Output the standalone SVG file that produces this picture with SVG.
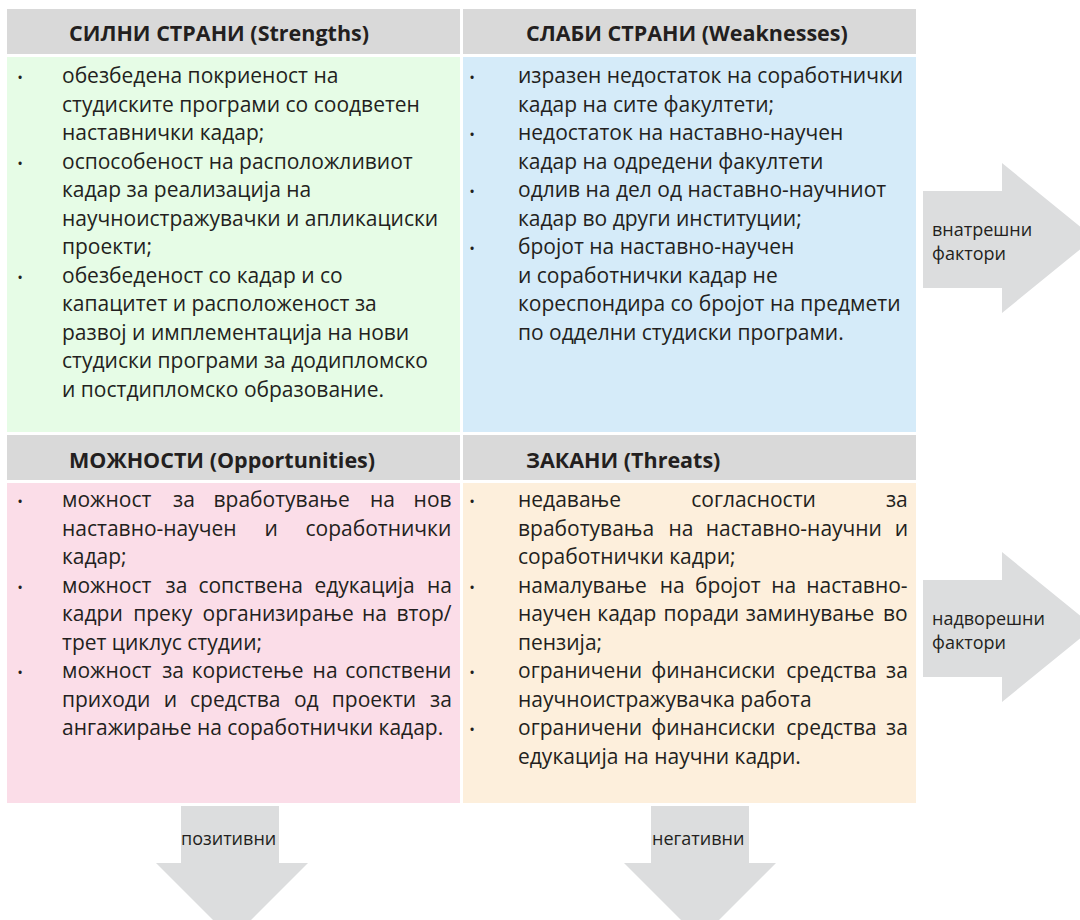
<svg xmlns="http://www.w3.org/2000/svg" width="1080" height="920" viewBox="0 0 1080 920">
<style>
.hdr{fill:#d9d9d9}
.ht{font-family:"Open Sans","Noto Sans","Liberation Sans",sans-serif;font-weight:700;font-size:21.5px;fill:#231f20}
.bt{font-family:"Open Sans","Noto Sans","Liberation Sans",sans-serif;font-size:21px;fill:#231f20}
.bl{font-family:"Open Sans","Noto Sans","Liberation Sans",sans-serif;font-size:15px;fill:#231f20;text-anchor:middle}
.arr{fill:#dcddde}
.at{font-family:"Open Sans","Noto Sans","Liberation Sans",sans-serif;font-size:18px;fill:#231f20}
</style>
<rect width="1080" height="920" fill="#ffffff"/>

<g id="strengths">
<rect class="hdr" x="7" y="9" width="453" height="45"/>
<text class="ht" x="69" y="41">СИЛНИ СТРАНИ (Strengths)</text>
<rect x="7" y="57" width="453" height="375" fill="#e6fce6"/>
<text class="bl" x="20" y="83">•</text>
<text class="bl" x="20" y="168.5">•</text>
<text class="bl" x="20" y="282.5">•</text>
<text class="bt" x="62" y="83">обезбедена покриеност на</text>
<text class="bt" x="62" y="111.5">студиските програми со соодветен</text>
<text class="bt" x="62" y="140">наставнички кадар;</text>
<text class="bt" x="62" y="168.5">оспособеност на расположливиот</text>
<text class="bt" x="62" y="197">кадар за реализација на</text>
<text class="bt" x="62" y="225.5">научноистражувачки и апликациски</text>
<text class="bt" x="62" y="254">проекти;</text>
<text class="bt" x="62" y="282.5">обезбеденост со кадар и со</text>
<text class="bt" x="62" y="311">капацитет и расположеност за</text>
<text class="bt" x="62" y="339.5">развој и имплементација на нови</text>
<text class="bt" x="62" y="368">студиски програми за додипломско</text>
<text class="bt" x="62" y="396.5">и постдипломско образование.</text>
</g>

<g id="weaknesses">
<rect class="hdr" x="463" y="9" width="453" height="45"/>
<text class="ht" x="526" y="41">СЛАБИ СТРАНИ (Weaknesses)</text>
<rect x="463" y="57" width="453" height="375" fill="#d5ebf9"/>
<text class="bl" x="472" y="83">•</text>
<text class="bl" x="472" y="140">•</text>
<text class="bl" x="472" y="197">•</text>
<text class="bl" x="472" y="254">•</text>
<text class="bt" x="518" y="83">изразен недостаток на соработнички</text>
<text class="bt" x="518" y="111.5">кадар на сите факултети;</text>
<text class="bt" x="518" y="140">недостаток на наставно-научен</text>
<text class="bt" x="518" y="168.5">кадар на одредени факултети</text>
<text class="bt" x="518" y="197">одлив на дел од наставно-научниот</text>
<text class="bt" x="518" y="225.5">кадар во други институции;</text>
<text class="bt" x="518" y="254">бројот на наставно-научен</text>
<text class="bt" x="518" y="282.5">и соработнички кадар не</text>
<text class="bt" x="518" y="311">кореспондира со бројот на предмети</text>
<text class="bt" x="518" y="339.5">по одделни студиски програми.</text>
</g>

<g id="opportunities">
<rect class="hdr" x="7" y="435" width="453" height="45"/>
<text class="ht" x="69" y="468">МОЖНОСТИ (Opportunities)</text>
<rect x="7" y="483" width="453" height="320" fill="#fbdde8"/>
<text class="bl" x="20" y="507">•</text>
<text class="bl" x="20" y="592.5">•</text>
<text class="bl" x="20" y="678">•</text>
<text class="bt" y="507"><tspan x="62">можност</tspan><tspan x="173">за</tspan><tspan x="213.5">вработување</tspan><tspan x="370">на</tspan><tspan x="413.6">нов</tspan></text>
<text class="bt" y="535.5"><tspan x="62">наставно-научен</tspan><tspan x="264.5">и</tspan><tspan x="305.5">соработнички</tspan></text>
<text class="bt" x="62" y="564">кадар;</text>
<text class="bt" y="592.5"><tspan x="62">можност</tspan><tspan x="165.5">за</tspan><tspan x="198.4">сопствена</tspan><tspan x="314.4">едукација</tspan><tspan x="427">на</tspan></text>
<text class="bt" y="621"><tspan x="62">кадри</tspan><tspan x="133.2">преку</tspan><tspan x="202.5">организирање</tspan><tspan x="362">на</tspan><tspan x="396.4">втор/</tspan></text>
<text class="bt" x="62" y="649.5">трет циклус студии;</text>
<text class="bt" y="678"><tspan x="62">можност</tspan><tspan x="162.2">за</tspan><tspan x="191.7">користење</tspan><tspan x="312.6">на</tspan><tspan x="345.2">сопствени</tspan></text>
<text class="bt" y="706.5"><tspan x="62">приходи</tspan><tspan x="163.8">и</tspan><tspan x="190">средства</tspan><tspan x="293.9">од</tspan><tspan x="331.8">проекти</tspan><tspan x="430">за</tspan></text>
<text class="bt" x="62" y="735">ангажирање на соработнички кадар.</text>
</g>

<g id="threats">
<rect class="hdr" x="463" y="435" width="453" height="45"/>
<text class="ht" x="526" y="468">ЗАКАНИ (Threats)</text>
<rect x="463" y="483" width="453" height="320" fill="#fdefdc"/>
<text class="bl" x="472" y="507">•</text>
<text class="bl" x="472" y="592.5">•</text>
<text class="bl" x="472" y="678">•</text>
<text class="bl" x="472" y="735">•</text>
<text class="bt" y="507"><tspan x="518">недавање</tspan><tspan x="691.2">согласности</tspan><tspan x="885.9">за</tspan></text>
<text class="bt" y="535.5"><tspan x="518">вработувања</tspan><tspan x="668.5">на</tspan><tspan x="705.8">наставно-научни</tspan><tspan x="894.7">и</tspan></text>
<text class="bt" x="518" y="564">соработнички кадри;</text>
<text class="bt" y="592.5"><tspan x="518">намалување</tspan><tspan x="659.8">на</tspan><tspan x="694.9">бројот</tspan><tspan x="771.2">на</tspan><tspan x="806.3">наставно-</tspan></text>
<text class="bt" y="621"><tspan x="518">научен</tspan><tspan x="597.3">кадар</tspan><tspan x="663.5">поради</tspan><tspan x="745.8">заминување</tspan><tspan x="882.9">во</tspan></text>
<text class="bt" x="518" y="649.5">пензија;</text>
<text class="bt" y="678"><tspan x="518">ограничени</tspan><tspan x="651.2">финансиски</tspan><tspan x="786.3">средства</tspan><tspan x="886">за</tspan></text>
<text class="bt" x="518" y="706.5">научноистражувачка работа</text>
<text class="bt" y="735"><tspan x="518">ограничени</tspan><tspan x="651.2">финансиски</tspan><tspan x="786.3">средства</tspan><tspan x="886">за</tspan></text>
<text class="bt" x="518" y="763.5">едукација на научни кадри.</text>
</g>

<g id="connectors">
<g id="arrow-internal">
<path class="arr" d="M923,191 H1002 V163 L1094,238 L1002,313 V288 H923 Z"/>
<text class="at" x="932" y="235.5">внатрешни</text>
<text class="at" x="932" y="260">фактори</text>
</g>
<g id="arrow-external">
<path class="arr" d="M923,580 H1002 V552 L1094,627 L1002,702 V677 H923 Z"/>
<text class="at" x="932" y="624.5">надворешни</text>
<text class="at" x="932" y="649">фактори</text>
</g>
<g id="arrow-positive">
<path class="arr" d="M181,806 H279 V863 H308 L232,939 L156,863 H181 Z"/>
<text class="at" x="181" y="845">позитивни</text>
</g>
<g id="arrow-negative">
<path class="arr" d="M651,806 H749 V863 H776 L700,939 L624,863 H651 Z"/>
<text class="at" x="652" y="845">негативни</text>
</g>
</g>
</svg>
